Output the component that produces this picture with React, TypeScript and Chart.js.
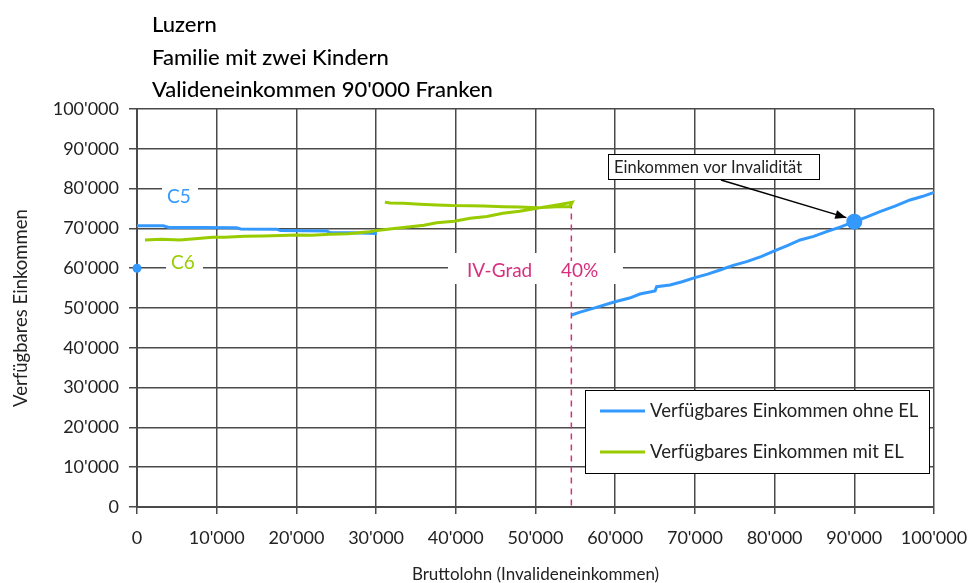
import React, { useEffect, useRef } from "react";
import { Chart, registerables } from "chart.js";

Chart.register(...registerables);

const titleLines = ["Luzern", "Familie mit zwei Kindern", "Valideneinkommen 90'000 Franken"];
const xAxisTitle = "Bruttolohn (Invalideneinkommen)";
const yAxisTitle = "Verfügbares Einkommen";

const seriesBlueLabel = "Verfügbares Einkommen ohne EL";
const seriesGreenLabel = "Verfügbares Einkommen mit EL";

// Blue: verfügbares Einkommen ohne EL (C5 segment, gap, then rising segment)
const blueX = [0, 3300, 4000, 8000, 12500, 13000, 17500, 18000, 23800, 24200, 27000, 30100, null, 54540, 55500, 57230, 59980, 61800, 63100, 65000, 65200, 66880, 68400, 70000, 71600, 73150, 74800, 76500, 78300, 80050, 81600, 83200, 84900, 86530, 88300, 90000, 91600, 93220, 95100, 96990, 98500, 100000];
const blueY = [70680, 70650, 70250, 70200, 70150, 69850, 69800, 69450, 69350, 68950, 68900, 68700, null, 48240, 48900, 49910, 51580, 52500, 53520, 54300, 55360, 55780, 56600, 57620, 58500, 59550, 60700, 61640, 62900, 64410, 65700, 67090, 68000, 69180, 70400, 71700, 72900, 74200, 75600, 77140, 78000, 79060];

// Green: verfügbares Einkommen mit EL (C6 segment rising, then back along upper branch)
const greenX = [1000, 3000, 5400, 6500, 9500, 11000, 13500, 15800, 18000, 20000, 22000, 24200, 26500, 29200, 30100, 32000, 34300, 36000, 37600, 39800, 41800, 43900, 45900, 48000, 50200, 52700, 54600, 54300, 52700, 50200, 48000, 46000, 43500, 41800, 39500, 37600, 35500, 33400, 31800, 31100];
const greenY = [67080, 67250, 67080, 67300, 67750, 67800, 68050, 68090, 68200, 68340, 68300, 68500, 68650, 69180, 69500, 69900, 70440, 70800, 71440, 71800, 72540, 73000, 73800, 74300, 75050, 75880, 76550, 75460, 75460, 75200, 75350, 75460, 75600, 75710, 75750, 75880, 76050, 76300, 76400, 76550];

// IV-Grad marker line
const ivX = [54500, 54500];
const ivY = [76500, 0];
const ivLabel = "IV-Grad";
const ivPercent = "40%";

// Markers
const valideX = [90000];
const valideY = [71700];
const c5StartX = [0];
const c5StartY = [60000];
const annotationText = "Einkommen vor Invalidität";
const c5Label = "C5";
const c6Label = "C6";

const BLUE = "#3399FF";
const GREEN = "#99CC00";
const MAGENTA = "#D62F7F";
const GRID = "#4a4a4a";
const FONT = "Lato";

const fmt = (v: number) => String(v).replace(/\B(?=(\d{3})+(?!\d))/g, "'");
const pts = (xs: (number | null)[], ys: (number | null)[]) =>
  xs.map((x, i) => (x === null || ys[i] === null ? { x: NaN, y: NaN } : { x, y: ys[i] as number }));

const overlayPlugin = {
  id: "overlay",
  beforeDatasetsDraw(chart: any) {
    const { ctx } = chart;
    ctx.save();
    ctx.fillStyle = "#ffffff";
    ctx.fillRect(162, 180, 36, 32);
    ctx.fillRect(166, 250, 37, 30);
    ctx.fillRect(448, 253, 175, 31);
    ctx.font = `19px ${FONT}`;
    ctx.textBaseline = "middle";
    ctx.fillStyle = BLUE;
    ctx.fillText(c5Label, 167, 197);
    ctx.fillStyle = GREEN;
    ctx.fillText(c6Label, 171, 263);
    ctx.restore();
  },
  afterDatasetsDraw(chart: any) {
    const { ctx, scales } = chart;
    const x = scales.x, y = scales.y;
    ctx.save();
    ctx.font = `19px ${FONT}`;
    ctx.textBaseline = "middle";
    const ty = 271;
    ctx.fillStyle = "#ffffff";
    const pw = ctx.measureText(ivPercent).width;
    const px = 561;
    ctx.fillRect(px - 2, ty - 10, pw + 4, 21);
    ctx.fillStyle = MAGENTA;
    ctx.fillText(ivLabel, 467, ty);
    ctx.fillText(ivPercent, px, ty);

    // annotation box + arrow
    const bx = 608, by = 154, bw = 211, bh = 25;
    ctx.fillStyle = "#ffffff";
    ctx.fillRect(bx, by, bw, bh);
    ctx.strokeStyle = "#000";
    ctx.lineWidth = 1;
    ctx.strokeRect(bx + 0.5, by + 0.5, bw, bh);
    ctx.fillStyle = "#222";
    ctx.font = `16.5px ${FONT}`;
    ctx.fillText(annotationText, bx + 6, by + bh / 2 + 1);
    const ax0 = 721, ay0 = by + bh + 1;
    const ax1 = x.getPixelForValue(valideX[0]) - 8, ay1 = y.getPixelForValue(valideY[0]) - 4;
    ctx.strokeStyle = "#000";
    ctx.lineWidth = 1.5;
    ctx.beginPath();
    ctx.moveTo(ax0, ay0);
    ctx.lineTo(ax1, ay1);
    ctx.stroke();
    const ang = Math.atan2(ay1 - ay0, ax1 - ax0);
    ctx.fillStyle = "#000";
    ctx.beginPath();
    ctx.moveTo(ax1, ay1);
    ctx.lineTo(ax1 - 11 * Math.cos(ang) + 4.5 * Math.sin(ang), ay1 - 11 * Math.sin(ang) - 4.5 * Math.cos(ang));
    ctx.lineTo(ax1 - 11 * Math.cos(ang) - 4.5 * Math.sin(ang), ay1 - 11 * Math.sin(ang) + 4.5 * Math.cos(ang));
    ctx.closePath();
    ctx.fill();
    ctx.restore();
  },
  afterDraw(chart: any) {
    const { ctx } = chart;
    ctx.save();
    // title
    ctx.fillStyle = "#000";
    ctx.font = `500 22px ${FONT}`;
    ctx.textBaseline = "alphabetic";
    titleLines.forEach((t, i) => ctx.fillText(t, 152, 32 + i * 32.5));
    // legend
    const lx = 585, ly = 390, lw = 344, lh = 83;
    ctx.fillStyle = "#fff";
    ctx.fillRect(lx, ly, lw, lh);
    ctx.strokeStyle = "#000";
    ctx.lineWidth = 1;
    ctx.strokeRect(lx + 0.5, ly + 0.5, lw, lh);
    const items = [chart.data.datasets[0], chart.data.datasets[1]];
    ctx.font = `18.5px ${FONT}`;
    ctx.textBaseline = "middle";
    items.forEach((ds: any, i: number) => {
      const yy = ly + 21 + i * 41;
      ctx.strokeStyle = ds.borderColor;
      ctx.lineWidth = 3;
      ctx.beginPath();
      ctx.moveTo(lx + 15, yy);
      ctx.lineTo(lx + 60, yy);
      ctx.stroke();
      ctx.fillStyle = "#222";
      ctx.fillText(ds.label, lx + 65, yy);
    });
    ctx.restore();
  },
};

export default function App() {
  const ref = useRef<HTMLCanvasElement>(null);
  useEffect(() => {
    document.body.style.margin = "0";
    const chart = new Chart(ref.current!, {
      type: "scatter",
      data: {
        datasets: [
          {
            label: seriesBlueLabel,
            data: pts(blueX, blueY),
            showLine: true,
            spanGaps: false,
            borderColor: BLUE,
            backgroundColor: BLUE,
            borderWidth: 3,
            pointRadius: 0,
            order: 3,
          },
          {
            label: seriesGreenLabel,
            data: pts(greenX, greenY),
            showLine: true,
            borderColor: GREEN,
            backgroundColor: GREEN,
            borderWidth: 3,
            pointRadius: 0,
            order: 2,
          },
          {
            label: "IV-Grad",
            data: pts(ivX, ivY),
            showLine: true,
            borderColor: MAGENTA,
            borderWidth: 1.5,
            borderDash: [6, 5],
            pointRadius: 0,
            order: 4,
          },
          {
            label: "Valideneinkommen",
            data: pts(valideX, valideY),
            pointRadius: 8,
            pointBackgroundColor: BLUE,
            pointBorderWidth: 0,
            order: 1,
          },
          {
            label: "Start",
            data: pts(c5StartX, c5StartY),
            pointRadius: 4.5,
            pointBackgroundColor: BLUE,
            pointBorderWidth: 0,
            clip: false,
            order: 1,
          },
        ],
      },
      options: {
        responsive: false,
        animation: false,
        layout: { padding: { left: 0, top: 109, right: 40, bottom: 0 } },
        plugins: { legend: { display: false }, tooltip: { enabled: false }, title: { display: false } },
        scales: {
          x: {
            type: "linear",
            min: 0,
            max: 100000,
            afterFit: (s: any) => { s.height = 76; s.paddingLeft = 0; s.paddingRight = 0; },
            ticks: { stepSize: 10000, callback: (v: any) => fmt(v), color: "#222", padding: 13, font: { family: FONT, size: 18 }, maxRotation: 0 },
            grid: { color: GRID, lineWidth: 1.5, tickLength: 7, drawTicks: true },
            border: { color: GRID, width: 2 },
            title: { display: true, text: xAxisTitle, color: "#222", font: { family: FONT, size: 17 }, padding: { top: 0, bottom: -2 } },
          },
          y: {
            type: "linear",
            min: 0,
            max: 100000,
            afterFit: (s: any) => { s.width = 137; s.paddingTop = 0; s.paddingBottom = 0; },
            ticks: { stepSize: 10000, callback: (v: any) => fmt(v), color: "#222", padding: 10, font: { family: FONT, size: 18 } },
            grid: { color: GRID, lineWidth: 1.5, tickLength: 8, drawTicks: true },
            border: { color: GRID, width: 2 },
            title: { display: true, text: yAxisTitle, color: "#222", font: { family: FONT, size: 18.5 }, padding: { top: 10, bottom: 0 } },
          },
        },
      },
      plugins: [overlayPlugin],
    } as any);
    return () => chart.destroy();
  }, []);
  return (
    <div style={{ position: "absolute", left: 0, top: 0, width: 974, height: 583 }}>
      <canvas ref={ref} width={974} height={583} />
    </div>
  );
}
